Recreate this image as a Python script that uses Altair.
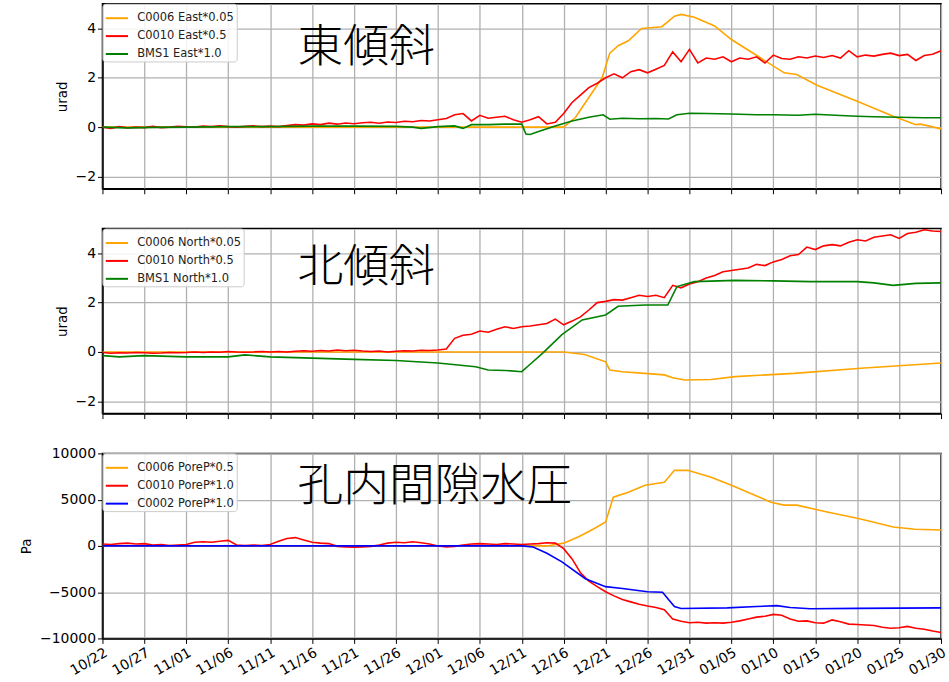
import altair as alt
import pandas as pd

BASE = pd.Timestamp("2022-10-22")
DAILY = list(range(0, 101))

# ---------------- Panel 1: East tilt (urad) ----------------
E_C0006_DAYS = [0, 20, 40, 55, 56.4, 58, 59.6, 60.5, 61.5, 62.7, 64.3, 66.7, 67.5, 68.2, 69, 70.6, 73, 75,
                78.5, 81.3, 82.8, 85.2, 90, 94.3, 97, 97.6, 100]
E_C0006_VALS = [0, 0, 0, 0, 0.4, 1.2, 2.0, 3.0, 3.3, 3.5, 4.0, 4.07, 4.3, 4.5, 4.57, 4.45, 4.1, 3.55,
                2.8, 2.2, 2.13, 1.7, 1.05, 0.44, 0.1, 0.12, -0.07]

E_C0010_VALS = [0.0, -0.05, 0.02, -0.03, 0.0, -0.02, 0.03, -0.02, 0.0, 0.03,
                0.01, 0.0, 0.04, 0.02, 0.05, 0.02, 0.0, 0.03, 0.05, 0.02,
                0.04, 0.02, 0.06, 0.1, 0.08, 0.13, 0.1, 0.16, 0.12, 0.17,
                0.14, 0.18, 0.2, 0.16, 0.21, 0.19, 0.24, 0.22, 0.27, 0.25,
                0.3, 0.35, 0.5, 0.55, 0.25, 0.48, 0.36, 0.4, 0.44, 0.3,
                0.2, 0.3, 0.42, 0.13, 0.2, 0.55, 1.0, 1.3, 1.6, 1.78,
                2.0, 2.16, 2.0, 2.25, 2.33, 2.2, 2.35, 2.5, 3.05, 2.65,
                3.15, 2.6, 2.8, 2.75, 2.85, 2.65, 2.8, 2.75, 2.85, 2.6,
                2.92, 2.78, 2.75, 2.85, 2.8, 2.88, 2.82, 2.9, 2.8, 3.1,
                2.85, 2.92, 2.88, 2.95, 3.0, 2.9, 2.95, 2.7, 2.9, 2.95,
                3.1]

E_BMS1_DAYS = [0, 3, 6, 10, 15, 20, 25, 30, 35, 37, 38, 40, 42, 43, 44, 46, 48, 50, 50.5, 51, 52, 54, 56, 58,
               59.7, 60.5, 62, 64, 66, 67.5, 68.5, 70, 72, 75, 78, 80, 83, 85, 88, 90, 92, 95, 98, 100]
E_BMS1_VALS = [0, -0.03, -0.01, 0, 0.02, 0.02, 0.04, 0.04, 0.03, 0, -0.05, 0.02, 0.05, -0.05, 0.1, 0.1, 0.12,
               0.12, -0.28, -0.3, -0.18, 0.05, 0.25, 0.4, 0.5, 0.32, 0.36, 0.34, 0.35, 0.33, 0.5, 0.56, 0.55,
               0.53, 0.5, 0.5, 0.48, 0.52, 0.47, 0.44, 0.42, 0.4, 0.38, 0.38]

# ---------------- Panel 2: North tilt (urad) ----------------
N_C0006_DAYS = [0, 20, 40, 55, 57.5, 60, 60.5, 62, 64.3, 67, 68, 69.4, 72.6, 75.4, 82.5, 90.4, 100]
N_C0006_VALS = [0, 0, 0, 0, -0.1, -0.4, -0.73, -0.8, -0.86, -0.93, -1.05, -1.14, -1.12, -1.0, -0.87, -0.66, -0.45]

N_C0010_VALS = [-0.02, -0.05, -0.03, -0.04, -0.02, -0.03, -0.05, -0.04, -0.02, -0.03,
                -0.02, 0.0, -0.02, 0.0, -0.01, 0.02, 0.0, -0.01, 0.0, 0.02,
                0.0, 0.02, 0.0, 0.03, 0.05, 0.03, 0.06, 0.04, 0.08, 0.05,
                0.07, 0.04, 0.02, 0.04, 0.0, 0.03, 0.05, 0.04, 0.07, 0.06,
                0.08, 0.12, 0.55, 0.68, 0.72, 0.85, 0.8, 0.92, 1.02, 0.95,
                1.02, 1.05, 1.1, 1.15, 1.33, 1.1, 1.25, 1.42, 1.7, 2.0,
                2.05, 2.12, 2.1, 2.2, 2.3, 2.25, 2.3, 2.2, 2.7, 2.6,
                2.75, 2.85, 3.0, 3.1, 3.25, 3.3, 3.35, 3.4, 3.55, 3.5,
                3.65, 3.75, 3.9, 3.95, 4.25, 4.15, 4.3, 4.35, 4.3, 4.45,
                4.55, 4.5, 4.65, 4.7, 4.75, 4.6, 4.8, 4.85, 4.95, 4.9,
                4.88]

N_BMS1_DAYS = [0, 2, 5, 10, 15, 17, 20, 25, 30, 35, 40, 44.5, 46, 48, 50, 51, 52.5, 54.8, 57.2, 60, 61.5,
               64.7, 67.4, 68.5, 70.6, 75.4, 80, 84.4, 90, 92, 94.3, 97, 100]
N_BMS1_VALS = [-0.15, -0.2, -0.15, -0.2, -0.2, -0.12, -0.2, -0.25, -0.3, -0.35, -0.45, -0.6, -0.73, -0.75,
               -0.8, -0.5, -0.05, 0.7, 1.3, 1.5, 1.85, 1.9, 1.9, 2.65, 2.85, 2.9, 2.88, 2.85, 2.85, 2.8,
               2.7, 2.78, 2.8]

# ---------------- Panel 3: pore pressure (Pa) ----------------
P_C0006_DAYS = [0, 40, 53, 55, 56.8, 58.5, 60, 60.9, 62.7, 64.7, 67, 68.2, 69.8, 72.6, 75, 79.7, 81.3, 82.8,
                86.4, 90.4, 94.3, 96.9, 100]
P_C0006_VALS = [0, 0, 0, 300, 1000, 1800, 2580, 5270, 5800, 6560, 6880, 8170, 8170, 7420, 6560, 4730, 4410,
                4410, 3660, 2900, 2040, 1800, 1720]

P_C0010_VALS = [200, 150, 250, 300, 200, 250, 100, 150, 50, 100,
                150, 400, 450, 400, 500, 600, 100, 50, 100, 50,
                150, 500, 800, 900, 650, 400, 300, 250, -50, -100,
                -150, -100, -50, 100, 300, 400, 350, 450, 350, 200,
                0, -100, -50, 100, 200, 250, 200, 150, 250, 200,
                150, 200, 250, 350, 300, -300, -1400, -2900, -3800, -4400,
                -4950, -5400, -5800, -6050, -6300, -6500, -6650, -6900, -7900, -8150,
                -8300, -8250, -8350, -8300, -8350, -8250, -8100, -7900, -7700, -7600,
                -7400, -7500, -7900, -8150, -8100, -8300, -8350, -8000, -8200, -8450,
                -8500, -8550, -8600, -8800, -8900, -8850, -8700, -8900, -9000, -9200,
                -9350]

P_C0002_DAYS = [0, 50, 51.3, 53, 54.8, 57.6, 60, 62, 65, 66.8, 67.5, 68.2, 69, 74.5, 78, 80.4, 82, 84.4, 90, 100]
P_C0002_VALS = [0, 0, -100, -800, -1720, -3550, -4400, -4600, -4950, -5000, -5800, -6560, -6770, -6700,
                -6550, -6450, -6650, -6800, -6750, -6700]

TICK_DAYS = list(range(0, 101, 5))
ORANGE, RED, GREEN, BLUE = "#FFA500", "#FF0000", "#008000", "#0000FF"


def frame(name, days, vals):
    return pd.DataFrame({
        "date": [BASE + pd.Timedelta(hours=round(d * 24)) for d in days],
        "value": vals,
        "series": name,
    })


def dt(day):
    t = BASE + pd.Timedelta(days=day)
    return alt.DateTime(year=t.year, month=t.month, date=t.day)


FONT = "DejaVu Sans"
W, H = 843, 186


def panel(frames, names, colors, ytitle, ydomain, yticks, label, label_y, show_labels):
    df = pd.concat(frames, ignore_index=True)
    xaxis = alt.Axis(values=[dt(d) for d in TICK_DAYS], format="%m/%d", labels=show_labels,
                     labelAngle=330, labelAlign="right", labelBaseline="top", labelFont=FONT,
                     labelFontSize=14, labelColor="black", labelOverlap=False, labelBound=False,
                     tickColor="black", tickSize=5,
                     domainColor="black", domainWidth=1.5, gridColor="#b0b0b0", gridWidth=1.3,
                     labelPadding=2, title=None)
    yaxis = alt.Axis(values=yticks, format="d", labelFont=FONT, labelFontSize=14, labelColor="black",
                     labelOverlap=False, tickColor="black", tickSize=5, domainColor="black", domainWidth=1.5,
                     gridColor="#b0b0b0", gridWidth=1.3, title=ytitle, titleFont=FONT,
                     titleFontSize=13.5, titleFontWeight="normal", titleColor="black", titlePadding=6)
    legend = alt.Legend(orient="top-left", offset=0, title=None, symbolType="stroke", symbolSize=500,
                        symbolStrokeWidth=2, labelFont=FONT, labelFontSize=11.5, labelColor="#222222",
                        fillColor="rgba(255,255,255,0.85)", strokeColor="#cccccc", cornerRadius=3,
                        padding=2, rowPadding=-4, labelOffset=8)
    lines = alt.Chart(df).mark_line(strokeWidth=1.6, clip=True).encode(
        x=alt.X("date:T", scale=alt.Scale(domain=[dt(0), dt(100)], nice=False), axis=xaxis),
        y=alt.Y("value:Q", scale=alt.Scale(domain=ydomain, nice=False), axis=yaxis),
        color=alt.Color("series:N", scale=alt.Scale(domain=names, range=colors), legend=legend,
                        sort=names),
        order=alt.Order("date:T"),
    )
    text = alt.Chart(pd.DataFrame({"t": [label]})).mark_text(
        font="Noto Sans CJK JP", fontSize=46, fontWeight=300, align="left", baseline="middle",
        color="black"
    ).encode(text="t:N", x=alt.value(196), y=alt.value(label_y))
    return alt.layer(lines, text).properties(width=W, height=H)


p1 = panel([frame("C0006 East*0.05", E_C0006_DAYS, E_C0006_VALS),
            frame("C0010 East*0.5", DAILY, E_C0010_VALS),
            frame("BMS1 East*1.0", E_BMS1_DAYS, E_BMS1_VALS)],
           ["C0006 East*0.05", "C0010 East*0.5", "BMS1 East*1.0"], [ORANGE, RED, GREEN],
           "urad", [-2.5, 5], [-2, 0, 2, 4], "東傾斜", 45, False)

p2 = panel([frame("C0006 North*0.05", N_C0006_DAYS, N_C0006_VALS),
            frame("C0010 North*0.5", DAILY, N_C0010_VALS),
            frame("BMS1 North*1.0", N_BMS1_DAYS, N_BMS1_VALS)],
           ["C0006 North*0.05", "C0010 North*0.5", "BMS1 North*1.0"], [ORANGE, RED, GREEN],
           "urad", [-2.5, 5], [-2, 0, 2, 4], "北傾斜", 40, False)

p3 = panel([frame("C0006 PoreP*0.5", P_C0006_DAYS, P_C0006_VALS),
            frame("C0010 PoreP*1.0", DAILY, P_C0010_VALS),
            frame("C0002 PoreP*1.0", P_C0002_DAYS, P_C0002_VALS)],
           ["C0006 PoreP*0.5", "C0010 PoreP*1.0", "C0002 PoreP*1.0"], [ORANGE, RED, BLUE],
           "Pa", [-10000, 10000], [-10000, -5000, 0, 5000, 10000], "孔内間隙水圧", 34, True)

top = alt.vconcat(p1, p2, spacing=31).resolve_scale(color="independent").resolve_legend(color="independent")
chart = alt.vconcat(top, p3, spacing=25).resolve_scale(color="independent").resolve_legend(
    color="independent"
).properties(
    padding={"left": 18, "top": 0, "right": 0, "bottom": 0},
    background="white",
).configure_view(stroke="black", strokeWidth=1.5)

chart.save("out.html", embed_options={"renderer": "svg", "actions": False})
